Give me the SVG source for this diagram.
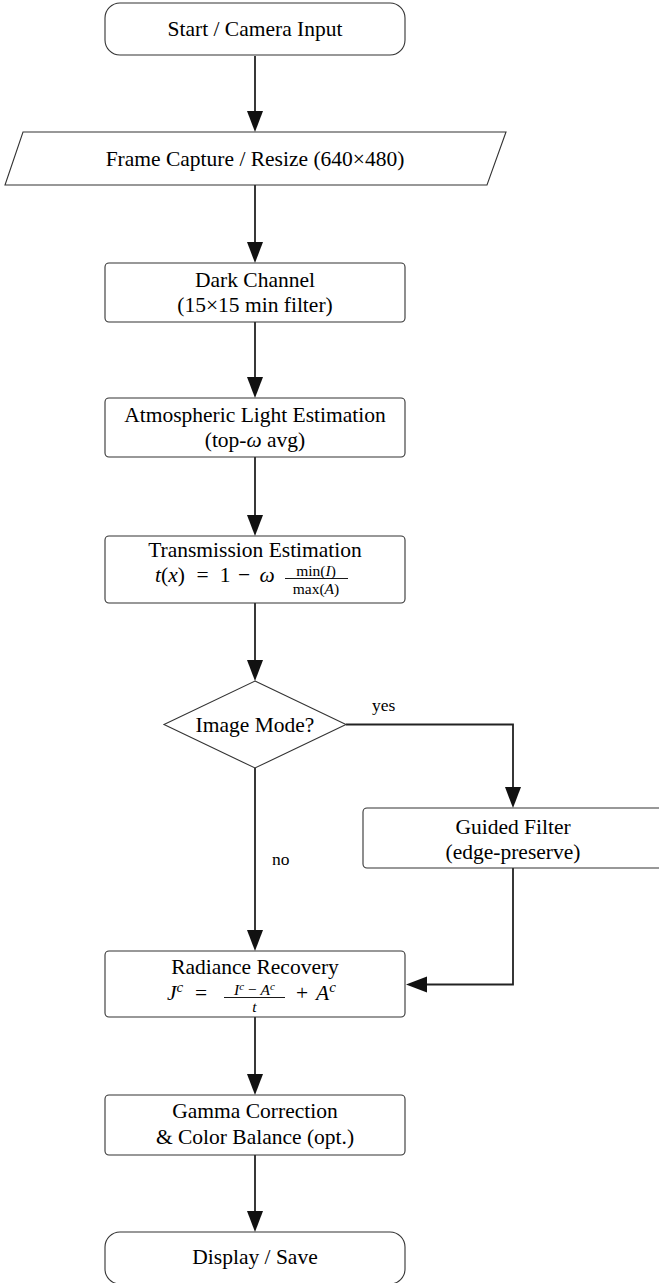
<svg xmlns="http://www.w3.org/2000/svg" width="659" height="1283" viewBox="0 0 659 1283">
<style>
.box{fill:#fff;stroke:#333;stroke-width:1.1}
.t{font-family:"Liberation Serif","DejaVu Serif","Times New Roman",serif;font-size:21.5px;fill:#000;text-anchor:middle}
.s{font-family:"Liberation Serif","DejaVu Serif","Times New Roman",serif;font-size:15.5px;fill:#000;text-anchor:middle}
.st{text-anchor:start}
.ss{font-size:11px;font-style:italic}
.lbl{font-family:"Liberation Serif","DejaVu Serif","Times New Roman",serif;font-size:17.5px;fill:#000;text-anchor:start}
.i{font-style:italic}
.e{fill:none;stroke:#222;stroke-width:1.8}
.bar{stroke:#000;stroke-width:0.9}
</style>
<defs>
<marker id="ah" markerUnits="userSpaceOnUse" markerWidth="22" markerHeight="17" refX="12" refY="8" orient="auto">
<path d="M0,0 L21,8 L0,16 z" fill="#111"/>
</marker>
</defs>
<g id="connectors">
<path class="e" d="M255,56 V123" marker-end="url(#ah)"/>
<path class="e" d="M255,185 V254" marker-end="url(#ah)"/>
<path class="e" d="M255,322 V389" marker-end="url(#ah)"/>
<path class="e" d="M255,457 V527" marker-end="url(#ah)"/>
<path class="e" d="M255,603 V672" marker-end="url(#ah)"/>
<path class="e" d="M255,768 V942" marker-end="url(#ah)"/>
<path class="e" d="M255,1017 V1086" marker-end="url(#ah)"/>
<path class="e" d="M255,1155 V1223" marker-end="url(#ah)"/>
<path class="e" d="M346,724.5 H513 V799" marker-end="url(#ah)"/>
<path class="e" d="M513,868 V984.5 H415" marker-end="url(#ah)"/>
<text class="lbl" x="372" y="711">yes</text>
<text class="lbl" x="272" y="865">no</text>
</g>
<g id="start">
<rect class="box" x="105" y="3" width="300" height="52" rx="15"/>
<text class="t" x="255" y="35.5">Start / Camera Input</text>
</g>
<g id="capture">
<polygon class="box" points="23,132 506,132 487,185 5,185"/>
<text class="t" x="255" y="165.5">Frame Capture / Resize (640×480)</text>
</g>
<g id="darkchannel">
<rect class="box" x="105" y="263" width="300" height="59" rx="4"/>
<text class="t" x="255" y="286.5">Dark Channel</text>
<text class="t" x="255" y="312">(15×15 min filter)</text>
</g>
<g id="atmlight">
<rect class="box" x="105" y="398" width="300" height="59" rx="4"/>
<text class="t" x="255" y="421.5">Atmospheric Light Estimation</text>
<text class="t" x="255" y="447">(top-<tspan class="i">ω</tspan> avg)</text>
</g>
<g id="transmission">
<rect class="box" x="105" y="536" width="300" height="67" rx="4"/>
<text class="t" x="255" y="557">Transmission Estimation</text>
<text class="t st" x="155" y="582"><tspan class="i">t</tspan>(<tspan class="i">x</tspan>)</text>
<text class="t" x="202.5" y="582">=</text>
<text class="t" x="225" y="582">1</text>
<text class="t" x="244" y="582">−</text>
<text class="t i" x="267" y="582">ω</text>
<text class="s" x="316" y="575.5">min(<tspan class="i">I</tspan>)</text>
<line class="bar" x1="285" y1="578.5" x2="348" y2="578.5"/>
<text class="s" x="316" y="594">max(<tspan class="i">A</tspan>)</text>
</g>
<g id="decision">
<polygon class="box" points="255,681 346,724.5 255,768 164,724.5"/>
<text class="t" x="255" y="731.5">Image Mode?</text>
</g>
<g id="guided">
<rect class="box" x="363" y="808" width="300" height="60" rx="4"/>
<text class="t" x="513" y="834">Guided Filter</text>
<text class="t" x="513" y="859">(edge-preserve)</text>
</g>
<g id="radiance">
<rect class="box" x="105" y="951" width="300" height="66" rx="4"/>
<text class="t" x="255" y="974">Radiance Recovery</text>
<text class="t st" x="167" y="1000"><tspan class="i">J</tspan><tspan class="i" font-size="15" dy="-8">c</tspan></text>
<text class="t" x="201" y="1000">=</text>
<text class="s" x="254.5" y="994.5"><tspan class="i">I</tspan><tspan class="ss" dy="-5">c</tspan><tspan dy="5"> − </tspan><tspan class="i">A</tspan><tspan class="ss" dy="-5">c</tspan></text>
<line class="bar" x1="224" y1="997.5" x2="285" y2="997.5"/>
<text class="s i" x="254.5" y="1012">t</text>
<text class="t" x="302" y="1000">+</text>
<text class="t st" x="316" y="1000"><tspan class="i">A</tspan><tspan class="i" font-size="15" dy="-8">c</tspan></text>
</g>
<g id="gamma">
<rect class="box" x="105" y="1095" width="300" height="60" rx="4"/>
<text class="t" x="255" y="1118">Gamma Correction</text>
<text class="t" x="255" y="1143.5">&amp; Color Balance (opt.)</text>
</g>
<g id="display">
<rect class="box" x="105" y="1232" width="300" height="52" rx="15"/>
<text class="t" x="255" y="1264">Display / Save</text>
</g>
</svg>
